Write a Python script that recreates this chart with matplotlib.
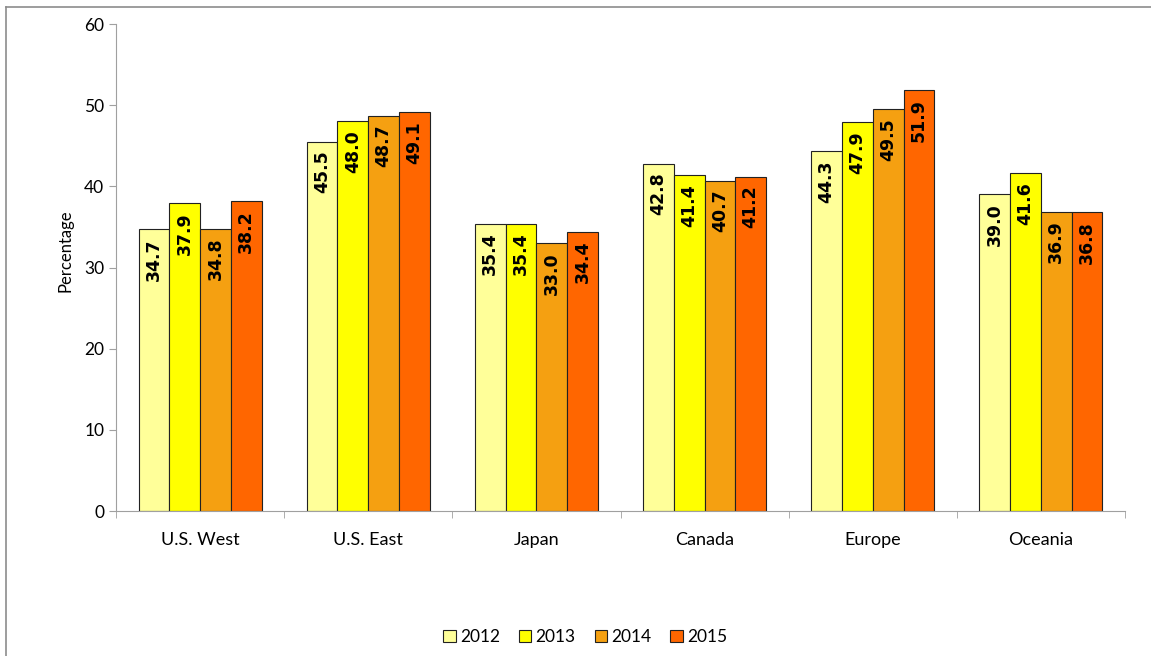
import numpy as np
import matplotlib
matplotlib.use('Agg')
from matplotlib import pyplot as plt
from matplotlib.lines import Line2D

regions = ['U.S. West', 'U.S. East', 'Japan', 'Canada', 'Europe', 'Oceania']
years = ['2012', '2013', '2014', '2015']
v2012 = [34.7, 45.5, 35.4, 42.8, 44.3, 39.0]
v2013 = [37.9, 48.0, 35.4, 41.4, 47.9, 41.6]
v2014 = [34.8, 48.7, 33.0, 40.7, 49.5, 36.9]
v2015 = [38.2, 49.1, 34.4, 41.2, 51.9, 36.8]
series = [v2012, v2013, v2014, v2015]
colors = ['#FFFF99', '#FFFF00', '#F5A011', '#FF6600']

plt.rcParams['font.family'] = ['Lato', 'DejaVu Sans']

fig = plt.figure(figsize=(11.51, 6.56), dpi=100)
ax = fig.add_axes([0.1008, 0.221, 0.8766, 0.7424])

# outer frame (only top and left are inside the picture)
fig.add_artist(Line2D([0.005, 1.0], [0.989, 0.989], color='#8c8c8c', lw=1.2, transform=fig.transFigure))
fig.add_artist(Line2D([0.005, 0.005], [0.0, 0.989], color='#8c8c8c', lw=1.2, transform=fig.transFigure))

x = np.arange(len(regions))
w = 0.183
for i, vals in enumerate(series):
    pos = x + (i - 1.5) * w
    ax.bar(pos, vals, width=w, color=colors[i], edgecolor='#222222', linewidth=0.8, label=years[i])
    for xp, v in zip(pos, vals):
        ax.annotate(f'{v:.1f}', (xp, v), xytext=(0, -6.5), textcoords='offset points',
                    rotation=90, ha='center', va='top', fontsize=12.5, fontweight='bold',
                    family='DejaVu Sans')

ax.set_xlim(-0.5, len(regions) - 0.5)
ax.set_ylim(0, 60)
ax.set_yticks(range(0, 61, 10))
ax.set_xticks(x)
ax.set_xticklabels(regions, fontsize=13)
ax.set_xticks(np.arange(-0.5, len(regions), 1), minor=True)
ax.tick_params(axis='x', which='major', length=0, pad=15)
ax.tick_params(axis='x', which='minor', length=5, color='#a0a0a0', direction='out')
ax.tick_params(axis='y', labelsize=12.5, length=5, color='#a0a0a0', direction='out')
ax.set_ylabel('Percentage', fontsize=12)
ax.yaxis.set_label_coords(-0.042, 0.534)
for s in ['top', 'right']:
    ax.spines[s].set_visible(False)
for s in ['left', 'bottom']:
    ax.spines[s].set_color('#a0a0a0')

ax.legend(loc='center', bbox_to_anchor=(0.465, -0.259), ncol=4, frameon=False,
          fontsize=12.5, handlelength=0.7, handleheight=0.7, handletextpad=0.25,
          columnspacing=1.1)

fig.savefig('out.png', dpi=100)
